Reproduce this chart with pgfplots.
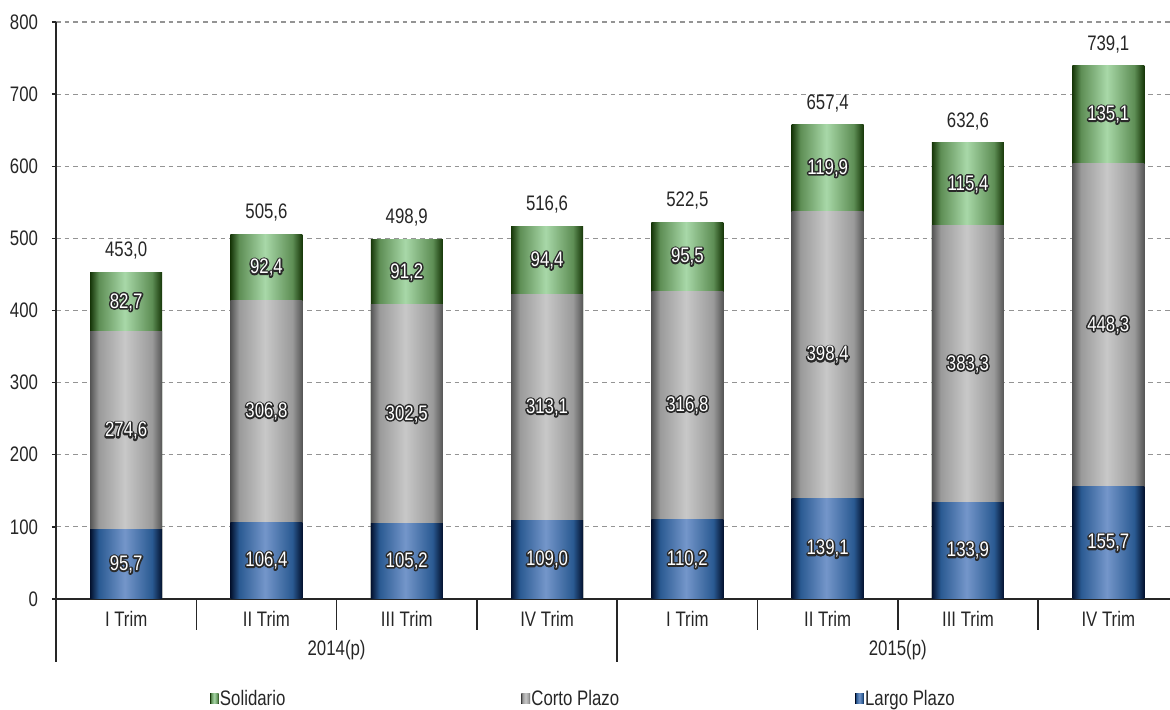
\documentclass[border=0pt]{standalone}
\usepackage{pgfplots}
\pgfplotsset{compat=1.18}
\usepackage{pgfplotstable}
\usepackage{fontspec}
\setmainfont{Liberation Sans}[FakeStretch=0.8]

\definecolor{gD}{HTML}{163608}
\definecolor{gM}{HTML}{5E8E55}
\definecolor{gL}{HTML}{A8D8A8}
\definecolor{sD}{HTML}{555555}
\definecolor{sM}{HTML}{9A9A9A}
\definecolor{sL}{HTML}{C8C8C8}
\definecolor{bD}{HTML}{03112E}
\definecolor{bM}{HTML}{2A5A92}
\definecolor{bL}{HTML}{7496CA}
\definecolor{axisc}{HTML}{262626}
\definecolor{textc}{HTML}{262626}

\pgfdeclarehorizontalshading{greenbar}{100bp}{color(0bp)=(gD); color(25bp)=(gD); color(31bp)=(gM); color(49bp)=(gL); color(68bp)=(gM); color(75bp)=(gD); color(100bp)=(gD)}
\pgfdeclarehorizontalshading{graybar}{100bp}{color(0bp)=(sD); color(25bp)=(sD); color(31bp)=(sM); color(49bp)=(sL); color(68bp)=(sM); color(75bp)=(sD); color(100bp)=(sD)}
\pgfdeclarehorizontalshading{bluebar}{100bp}{color(0bp)=(bD); color(25bp)=(bD); color(31bp)=(bM); color(49bp)=(bL); color(68bp)=(bM); color(75bp)=(bD); color(100bp)=(bD)}

\pgfplotstableread{
x lp cp sol tot
0 95.7 274.6 82.7 453.0
1 106.4 306.8 92.4 505.6
2 105.2 302.5 91.2 498.9
3 109.0 313.1 94.4 516.6
4 110.2 316.8 95.5 522.5
5 139.1 398.4 119.9 657.4
6 133.9 383.3 115.4 632.6
7 155.7 448.3 135.1 739.1
}\datatable

\newcommand{\fnt}{\fontsize{15.75}{18}\selectfont}
% white text with a dark halo: a stroked copy underneath, the filled text on top
\newcommand{\outl}[1]{\rlap{\special{pdf:literal direct 1 Tr 2.4 w 1 J 1 j 0.16 0.16 0.16 RG}#1\special{pdf:literal direct 0 Tr}}#1}

\pgfplotsset{
  barbase/.style={ybar, bar width=54pt, bar shift=0pt, draw=none, shading angle=0, forget plot},
  inlabel/.style={
    draw=none, mark=none, forget plot, point meta=explicit,
    nodes near coords={\outl{\pgfmathprintnumber[fixed,fixed zerofill,precision=1,use comma]{\pgfplotspointmeta}}},
    every node near coord/.append style={anchor=center, text=white, font=\fnt},
  },
}

\begin{document}
\begin{tikzpicture}
\begin{axis}[
  name=ax,
  scale only axis,
  width=835.5pt, height=432.75pt,
  xmin=-0.5, xmax=7.44,
  ymin=0, ymax=800,
  ytick={0,100,...,800},
  xtick={0,...,7},
  xticklabels={I Trim,II Trim,III Trim,IV Trim,I Trim,II Trim,III Trim,IV Trim},
  x tick style={draw=none},
  axis x line*=bottom, axis y line*=left,
  axis line style={axisc, line width=1.1pt},
  y tick style={axisc, line width=1.1pt},
  tick align=outside, major tick length=3pt,
  ymajorgrids,
  major grid style={draw=black!42, line width=0.8pt, dash pattern=on 3.5pt off 3pt},
  /pgf/number format/assume math mode=true,
  tick label style={font=\fnt, text=textc},
  yticklabel style={xshift=-7pt},
  xticklabel style={anchor=base, yshift=-18pt},
  clip=false,
  legend columns=3,
  legend style={draw=none, fill=none, at={(0.138,-0.1735)}, anchor=west,
    inner xsep=0pt, inner ysep=0pt, font=\fnt, text=textc,
    nodes={inner xsep=1pt, inner ysep=1pt},
    /tikz/every even column/.append style={column sep=176pt}},
  legend image code/.code={\fill[#1] (0pt,-3.6pt) rectangle (6.5pt,3.9pt);},
]
\pgfplotsinvokeforeach{0,...,7}{
  \addplot[barbase, shading=greenbar, restrict expr to domain={\coordindex}{#1:#1}]
    table[x=x, y expr=\thisrow{lp}+\thisrow{cp}+\thisrow{sol}] \datatable;
  \addplot[barbase, shading=graybar, restrict expr to domain={\coordindex}{#1:#1}]
    table[x=x, y expr=\thisrow{lp}+\thisrow{cp}] \datatable;
  \addplot[barbase, shading=bluebar, restrict expr to domain={\coordindex}{#1:#1}]
    table[x=x, y=lp] \datatable;
}
\addplot[inlabel] table[x=x, y expr=\thisrow{lp}/2, meta=lp] \datatable;
\addplot[inlabel] table[x=x, y expr=\thisrow{lp}+\thisrow{cp}/2, meta=cp] \datatable;
\addplot[inlabel] table[x=x, y expr=\thisrow{lp}+\thisrow{cp}+\thisrow{sol}/2, meta=sol] \datatable;
\addplot[draw=none, mark=none, forget plot, point meta=explicit,
  nodes near coords={\pgfmathprintnumber[fixed,fixed zerofill,precision=1,use comma]{\pgfplotspointmeta}},
  every node near coord/.append style={anchor=base, yshift=11.6pt, font=\fnt, text=textc}]
  table[x=x, y=tot, meta=tot] \datatable;
\addlegendimage{draw=none, shading=greenbar, shading angle=0}
\addlegendentry{Solidario}
\addlegendimage{draw=none, shading=graybar, shading angle=0}
\addlegendentry{Corto Plazo}
\addlegendimage{draw=none, shading=bluebar, shading angle=0}
\addlegendentry{Largo Plazo}
% category separators
\foreach \s in {0.5,1.5,2.5,4.5,5.5,6.5}{
  \edef\tmp{\noexpand\draw[axisc, line width=1.1pt] (axis cs:\s,0) -- ([yshift=-23.25pt]axis cs:\s,0);}\tmp
}
\draw[axisc, line width=1.1pt] (axis cs:3.5,0) -- ([yshift=-47.25pt]axis cs:3.5,0);
\draw[axisc, line width=1.1pt] (axis cs:-0.5,0) -- ([yshift=-47.25pt]axis cs:-0.5,0);
\node[anchor=base, font=\fnt, text=textc] at ([yshift=-42.75pt]axis cs:1.5,0) {2014(p)};
\node[anchor=base, font=\fnt, text=textc] at ([yshift=-42.75pt]axis cs:5.5,0) {2015(p)};
\end{axis}
\pgfresetboundingbox
\path ([shift={(-42pt,-83.25pt)}]ax.south west) rectangle ([shift={(0pt,16.5pt)}]ax.north east);
\end{tikzpicture}
\end{document}
